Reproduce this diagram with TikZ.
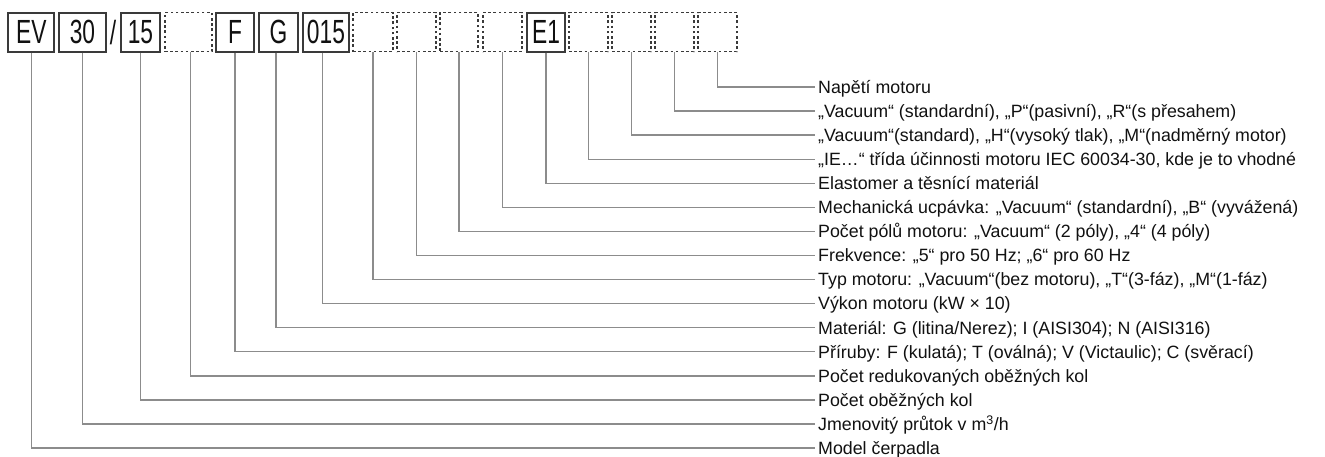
\documentclass[tikz,border=0pt]{standalone}
\usepackage{fontspec}
\setmainfont{Liberation Sans}
\newfontfamily\boxfont[FakeStretch=0.68]{Liberation Sans}
\definecolor{boxc}{HTML}{3A3A3A}
\definecolor{linec}{HTML}{8C8C8C}
\definecolor{txt}{HTML}{111111}
\begin{document}
\begin{tikzpicture}[x=1pt,y=-1pt,
  box/.style={draw=boxc, line width=1.8pt, minimum height=39pt, inner sep=0pt, font=\boxfont\fontsize{33.5}{34}\selectfont, text=txt},
  dbox/.style={draw=boxc, line width=1.5pt, dash pattern=on 2.6pt off 2.6pt, minimum height=39pt, inner sep=0pt},
  lbl/.style={anchor=west, inner xsep=3pt, inner ysep=0pt, text height=12.7pt, text depth=0pt, font=\fontsize{17.8}{20}\selectfont, text=txt},
  conn/.style={draw=linec, line width=1.4pt}]
\useasboundingbox[fill=white] (0,0) rectangle (1325,457);
% code boxes
\node[box, minimum width=46pt] (b1) at (31.3,32.2) {EV};
\node[box, minimum width=47pt] (b2) at (82.5,32.2) {30};
\node[box, draw=none] (sl) at (113,32.2) {/};
\node[box, minimum width=39pt] (b3) at (140.5,32.2) {15};
\node[dbox, minimum width=47pt] (b4) at (188.5,32.2) {};
\node[box, minimum width=38pt] (b5) at (235,32.2) {F};
\node[box, minimum width=39pt] (b6) at (278.5,32.2) {G};
\node[box, minimum width=46pt] (b7) at (326,32.2) {015};
\node[dbox, minimum width=40pt] (b8) at (373,32.2) {};
\node[dbox, minimum width=39pt] (b9) at (416.5,32.2) {};
\node[dbox, minimum width=38pt] (b10) at (459,32.2) {};
\node[dbox, minimum width=39pt] (b11) at (502.5,32.2) {};
\node[box, minimum width=38pt] (b12) at (546,32.2) {E1};
\node[dbox, minimum width=39pt] (b13) at (588.5,32.2) {};
\node[dbox, minimum width=39pt] (b14) at (631.5,32.2) {};
\node[dbox, minimum width=39pt] (b15) at (674.5,32.2) {};
\node[dbox, minimum width=39pt] (b16) at (717.5,32.2) {};
% labels
\node[lbl] (l1) at (815,87) {Napětí motoru};
\node[lbl] (l2) at (815,111.07) {„Vacuum“ (standardní), „P“(pasivní), „R“(s přesahem)};
\node[lbl] (l3) at (815,135.14) {„Vacuum“(standard), „H“(vysoký tlak), „M“(nadměrný motor)};
\node[lbl] (l4) at (815,159.21) {„IE…“ třída účinnosti motoru IEC 60034-30, kde je to vhodné};
\node[lbl] (l5) at (815,183.28) {Elastomer a těsnící materiál};
\node[lbl] (l6) at (815,207.35) {Mechanická ucpávka: „Vacuum“ (standardní), „B“ (vyvážená)};
\node[lbl] (l7) at (815,231.42) {Počet pólů motoru: „Vacuum“ (2 póly), „4“ (4 póly)};
\node[lbl] (l8) at (815,255.49) {Frekvence: „5“ pro 50 Hz; „6“ pro 60 Hz};
\node[lbl] (l9) at (815,279.56) {Typ motoru: „Vacuum“(bez motoru), „T“(3-fáz), „M“(1-fáz)};
\node[lbl] (l10) at (815,303.63) {Výkon motoru (kW × 10)};
\node[lbl] (l11) at (815,327.70) {Materiál: G (litina/Nerez); I (AISI304); N (AISI316)};
\node[lbl] (l12) at (815,351.77) {Příruby: F (kulatá); T (oválná); V (Victaulic); C (svěrací)};
\node[lbl] (l13) at (815,375.84) {Počet redukovaných oběžných kol};
\node[lbl] (l14) at (815,399.91) {Počet oběžných kol};
\node[lbl] (l15) at (815,423.98) {Jmenovitý průtok v m\textsuperscript{3}/h};
\node[lbl] (l16) at (815,448.05) {Model čerpadla};
% connectors
\draw[conn] (b1.south) |- (l16.west);
\draw[conn] (b2.south) |- (l15.west);
\draw[conn] (b3.south) |- (l14.west);
\draw[conn] ([xshift=2pt]b4.south) |- (l13.west);
\draw[conn] (b5.south) |- (l12.west);
\draw[conn] ([xshift=-2.5pt]b6.south) |- (l11.west);
\draw[conn] ([xshift=-3.3pt]b7.south) |- (l10.west);
\draw[conn] (b8.south) |- (l9.west);
\draw[conn] (b9.south) |- (l8.west);
\draw[conn] (b10.south) |- (l7.west);
\draw[conn] (b11.south) |- (l6.west);
\draw[conn] (b12.south) |- (l5.west);
\draw[conn] (b13.south) |- (l4.west);
\draw[conn] (b14.south) |- (l3.west);
\draw[conn] (b15.south) |- (l2.west);
\draw[conn] (b16.south) |- (l1.west);
\end{tikzpicture}
\end{document}
